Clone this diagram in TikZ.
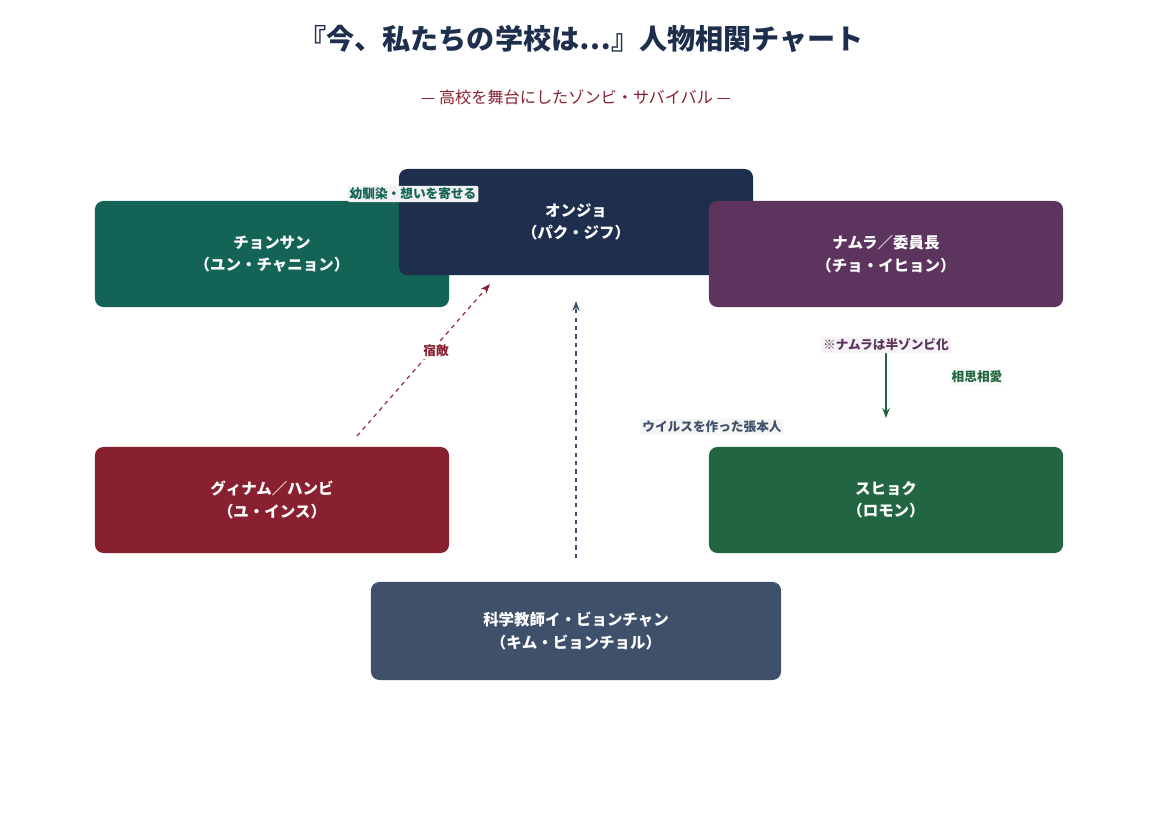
\documentclass[tikz,border=0pt]{standalone}
\usepackage{fontspec}
\setmainfont{Noto Sans CJK JP}
\usetikzlibrary{positioning,arrows.meta}
\definecolor{cNavy}{HTML}{1E2F4D}
\definecolor{cTeal}{HTML}{136356}
\definecolor{cPurple}{HTML}{5C345E}
\definecolor{cRed}{HTML}{88202F}
\definecolor{cGreen}{HTML}{216641}
\definecolor{cSlate}{HTML}{3F506B}
\tikzstyle{person}=[rectangle, rounded corners=6pt, text=white, align=center, font=\fontsize{11}{16}\selectfont\bfseries, minimum width=8.85cm, minimum height=2.65cm]
\tikzstyle{rel}=[font=\fontsize{9}{11}\selectfont\bfseries, inner sep=1.5pt, rounded corners=1pt]

\begin{document}
\begin{tikzpicture}[x=0.025cm,y=-0.025cm]
	\useasboundingbox (0,0) rectangle (1153,818);

	%%% title
	\node[text=cNavy,font=\fontsize{20}{24}\selectfont\bfseries] (title) at (581,39) {『今、私たちの学校は…』人物相関チャート};
	\node[text=cRed,font=\fontsize{11.5}{14}\selectfont] (subtitle) at (576,97) {— 高校を舞台にしたゾンビ・サバイバル —};

	%%% top row
	\node[person,fill=cTeal] (chonsan) at (272,254) {チョンサン\\（ユン・チャニョン）};
	\node[person,fill=cNavy] (onjo) at (576,222) {オンジョ\\（パク・ジフ）};
	\node[person,fill=cPurple] (namra) at (886,254) {ナムラ／委員長\\（チョ・イヒョン）};

	%%% middle row
	\node[person,fill=cRed] (gwinam) at (272,500) {グィナム／ハンビ\\（ユ・インス）};
	\node[person,fill=cGreen] (suhyok) at (886,500) {スヒョク\\（ロモン）};

	%%% bottom
	\node[person,fill=cSlate,minimum width=10.25cm,minimum height=2.45cm] (teacher) at (576,631) {科学教師イ・ビョンチャン\\（キム・ビョンチョル）};

	% labels
	\node[rel,text=cTeal,fill=gray!10] (childhood) at (413,194) {幼馴染・想いを寄せる};

	% connectors
	\coordinate (rivalStart) at (357,436);
	\coordinate (rivalEnd) at (490,284);
	\draw[cRed,thick,dashed,-{Stealth[length=7pt]}] (rivalStart) -- (rivalEnd);
	\node[rel,fill=white,text=cRed] (rival) at (436,351) {宿敵};

	\coordinate (virusStart) at (576,558);
	\coordinate (virusEnd) at (576,301);
	\draw[cSlate,thick,dashed,-{Stealth[length=7pt]}] (virusStart) -- (virusEnd);
	\node[rel,text=cSlate,fill=gray!8] (virus) at (712,427) {ウイルスを作った張本人};

	\coordinate (loveStart) at (886,337);
	\coordinate (loveEnd) at (886,418);
	\draw[cGreen,very thick,-{Stealth[length=7pt]}] (loveStart) -- (loveEnd);
	\node[rel,text=cPurple,fill=cPurple!6] (halfZombie) at (886,345) {※ナムラは半ゾンビ化};
	\node[rel,text=cGreen,fill=gray!5] (love) at (977,377) {相思相愛};
\end{tikzpicture}
\end{document}
